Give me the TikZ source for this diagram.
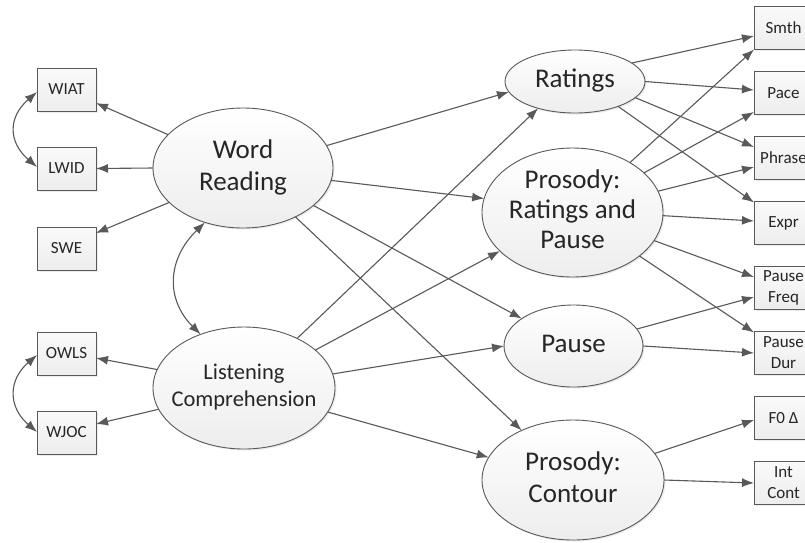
\documentclass[tikz,border=0pt]{standalone}
\usepackage{fontspec}
\setmainfont{Carlito}
\usetikzlibrary{shapes.geometric,arrows.meta,calc,shadows}
\newcommand{\lbltxt}[1]{\makebox[0pt]{\begin{tabular}{@{}c@{}}#1\end{tabular}}}
\begin{document}
\begin{tikzpicture}[x=1pt,y=-1pt,
  lat/.style={ellipse, draw=black!65, line width=0.9pt, top color=white, bottom color=black!7,
    drop shadow={shadow xshift=1.5pt,shadow yshift=-1.5pt,opacity=0.15},
    inner sep=0pt, outer sep=0pt, text=black!85},
  obs/.style={rectangle, draw=black!65, line width=0.9pt, top color=black!2, bottom color=black!7,
    drop shadow={shadow xshift=1.5pt,shadow yshift=-1.5pt,opacity=0.15},
    minimum width=59pt, minimum height=43pt, inner sep=0pt, outer sep=0pt,
    align=center, text=black!85, font=\fontsize{17}{21}\selectfont},
  big/.style={font=\fontsize{27}{32}\selectfont},
  arr/.style={draw=black!65, line width=1.1pt, -{Latex[length=12pt,width=9pt]}},
  dbl/.style={draw=black!65, line width=1.1pt, {Latex[length=12pt,width=9pt]}-{Latex[length=12pt,width=9pt]}},
]
\clip (0,0) rectangle (805,542);
\fill[white] (0,0) rectangle (805,542);

% observed, left
\node[obs] (wiat) at (66.5,89.5) {WIAT};
\node[obs] (lwid) at (66.5,168.5) {LWID};
\node[obs] (swe) at (66.5,248.5) {SWE};
\node[obs] (owls) at (66.5,353.5) {OWLS};
\node[obs] (wjoc) at (66.5,432.5) {WJOC};

% observed, right
\node[obs] (smth) at (783.5,28) {Smth};
\node[obs] (pace) at (783.5,93) {Pace};
\node[obs] (phrase) at (783.5,158) {Phrase};
\node[obs] (expr) at (783.5,223) {Expr};
\node[obs] (pfreq) at (783.5,288) {Pause\\Freq};
\node[obs] (pdur) at (783.5,353) {Pause\\Dur};
\node[obs] (f0) at (783.5,418) {F0 Δ};
\node[obs] (intc) at (783.5,483) {Int\\Cont};

% latent
\node[lat,big,minimum width=180pt,minimum height=120pt] (wr) at (243,168) {\lbltxt{Word\\Reading}};
\node[lat,font=\fontsize{22.5}{27}\selectfont,minimum width=182pt,minimum height=122pt] (lc) at (244,388) {\lbltxt{Listening\\Comprehension}};
\node[lat,big,minimum width=140pt,minimum height=63pt] (rat) at (575,81.5) {\lbltxt{Ratings}};
\node[lat,font=\fontsize{27}{30}\selectfont,minimum width=181pt,minimum height=129pt] (prp) at (572.5,212.5) {\lbltxt{Prosody:\\Ratings and\\Pause}};
\node[lat,big,minimum width=139pt,minimum height=82pt] (pau) at (573.5,346) {\lbltxt{Pause}};
\node[lat,big,minimum width=182pt,minimum height=120pt] (con) at (573,480) {\lbltxt{Prosody:\\Contour}};

% left indicators
\draw[arr] (wr.156.5) -- ($(wiat.east)+(0,13.5)$);
\draw[arr] (wr.180) -- (lwid.east);
\draw[arr] (wr.205.3) -- ($(swe.east)+(0,-15.5)$);
\draw[arr] (lc.168.3) -- ($(owls.east)+(0,4.5)$);
\draw[arr] (lc.194.3) -- ($(wjoc.east)+(0,-8.5)$);

% covariances
\draw[dbl] ($(wiat.west)+(0,2.5)$) .. controls +(-29,25) and +(-29,-25) .. ($(lwid.west)+(0,-1.5)$);
\draw[dbl] ($(owls.west)+(0,1.5)$) .. controls +(-29,25) and +(-29,-25) .. ($(wjoc.west)+(0,-0.5)$);
\draw[dbl] (wr.235) .. controls +(-38,37) and +(-35,-35) .. (lc.129.7);

% structural paths
\draw[arr] (wr.15.1) -- (rat.189.7);
\draw[arr] (wr.-8.2) -- (prp.171.4);
\draw[arr] (wr.-28.4) -- (pau.152);
\draw[arr] (wr.-43.9) -- (con.136.6);
\draw[arr] (lc.43.9) -- (rat.216);
\draw[arr] (lc.28.1) -- (prp.208.6);
\draw[arr] (lc.9.5) -- (pau.180);
\draw[arr] (lc.-16.4) -- (con.165.7);

% right indicators
\draw[arr] (rat.18.6) -- ($(smth.west)+(0,8)$);
\draw[arr] (rat.-0.4) -- ($(pace.west)+(0,-3)$);
\draw[arr] (rat.-15.9) -- ($(phrase.west)+(0,-11)$);
\draw[arr] (rat.-30.1) -- ($(expr.north west)+(0,1)$);
\draw[arr] (prp.41.3) -- (smth.south west);
\draw[arr] (prp.29.2) -- ($(pace.west)+(0,19)$);
\draw[arr] (prp.14.1) -- ($(phrase.west)+(0,9)$);
\draw[arr] (prp.-2.8) -- ($(expr.west)+(0,-2)$);
\draw[arr] (prp.-19.2) -- ($(pfreq.west)+(0,-11)$);
\draw[arr] (prp.-33.4) -- ($(pdur.north west)+(0,1)$);
\draw[arr] (pau.15.8) -- ($(pfreq.west)+(0,9)$);
\draw[arr] (pau.0) -- (pdur.west);
\draw[arr] (con.18.4) -- ($(f0.west)+(0,2)$);
\draw[arr] (con.0) -- (intc.west);
\end{tikzpicture}
\end{document}
